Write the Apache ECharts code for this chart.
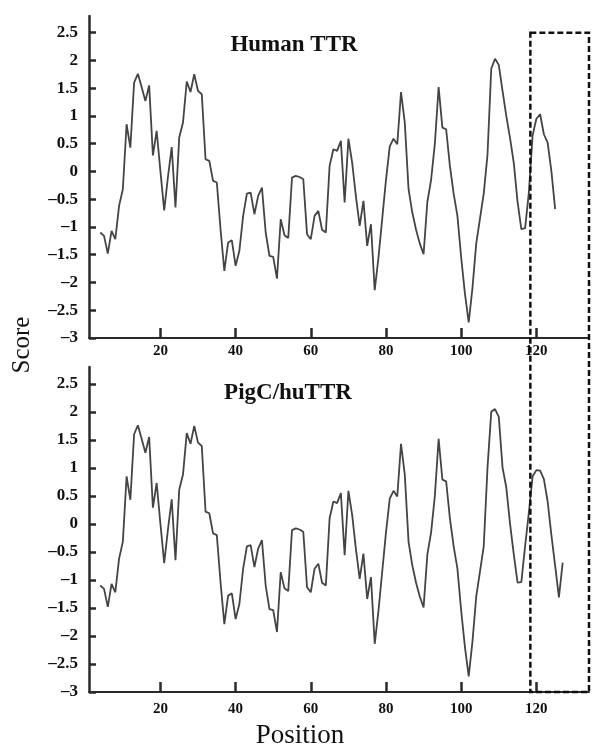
<!DOCTYPE html>
<html>
<head>
<meta charset="utf-8">
<script src="https://cdn.jsdelivr.net/npm/echarts@6/dist/echarts.min.js"></script>
<style>
html,body{margin:0;padding:0;background:#fff;}
#c{width:595px;height:747px;}
</style>
</head>
<body>
<div id="c"></div>
<script>
// ---- data ----
const humanPositions = [4,5,6,7,8,9,10,11,12,13,14,15,16,17,18,19,20,21,22,23,24,25,26,27,28,29,30,31,32,33,34,35,36,37,38,39,40,41,42,43,44,45,46,47,48,49,50,51,52,53,54,55,56,57,58,59,60,61,62,63,64,65,66,67,68,69,70,71,72,73,74,75,76,77,78,79,80,81,82,83,84,85,86,87,88,89,90,91,92,93,94,95,96,97,98,99,100,101,102,103,104,105,106,107,108,109,110,111,112,113,114,115,116,117,118,119,120,121,122,123,124,125];
const humanScores = [-1.10,-1.16,-1.48,-1.07,-1.22,-0.62,-0.32,0.85,0.43,1.60,1.76,1.52,1.27,1.55,0.29,0.73,0.00,-0.70,-0.10,0.44,-0.65,0.61,0.88,1.62,1.43,1.75,1.45,1.39,0.22,0.19,-0.17,-0.20,-1.05,-1.79,-1.28,-1.24,-1.70,-1.43,-0.80,-0.40,-0.38,-0.77,-0.44,-0.29,-1.10,-1.52,-1.54,-1.93,-0.86,-1.15,-1.20,-0.11,-0.08,-0.10,-0.14,-1.13,-1.22,-0.80,-0.71,-1.05,-1.10,0.10,0.40,0.37,0.55,-0.56,0.59,0.16,-0.45,-0.98,-0.53,-1.34,-0.95,-2.14,-1.55,-0.85,-0.15,0.45,0.59,0.49,1.43,0.88,-0.32,-0.74,-1.05,-1.30,-1.49,-0.55,-0.15,0.50,1.52,0.79,0.76,0.10,-0.40,-0.80,-1.55,-2.20,-2.72,-2.10,-1.30,-0.85,-0.40,0.30,1.85,2.03,1.92,1.45,1.00,0.60,0.15,-0.55,-1.04,-1.02,-0.38,0.65,0.95,1.03,0.67,0.52,0.00,-0.68];

const pigPositions = [4,5,6,7,8,9,10,11,12,13,14,15,16,17,18,19,20,21,22,23,24,25,26,27,28,29,30,31,32,33,34,35,36,37,38,39,40,41,42,43,44,45,46,47,48,49,50,51,52,53,54,55,56,57,58,59,60,61,62,63,64,65,66,67,68,69,70,71,72,73,74,75,76,77,78,79,80,81,82,83,84,85,86,87,88,89,90,91,92,93,94,95,96,97,98,99,100,101,102,103,104,105,106,107,108,109,110,111,112,113,114,115,116,117,118,119,120,121,122,123,124,125,126,127];
const pigScores = [-1.10,-1.16,-1.48,-1.07,-1.22,-0.62,-0.32,0.85,0.43,1.60,1.76,1.52,1.27,1.55,0.29,0.73,0.00,-0.70,-0.10,0.44,-0.65,0.61,0.88,1.62,1.43,1.75,1.45,1.39,0.22,0.19,-0.17,-0.20,-1.05,-1.79,-1.28,-1.24,-1.70,-1.43,-0.80,-0.40,-0.38,-0.77,-0.44,-0.29,-1.10,-1.52,-1.54,-1.93,-0.86,-1.15,-1.20,-0.11,-0.08,-0.10,-0.14,-1.13,-1.22,-0.80,-0.71,-1.05,-1.10,0.10,0.40,0.37,0.55,-0.56,0.59,0.16,-0.45,-0.98,-0.53,-1.34,-0.95,-2.14,-1.55,-0.85,-0.15,0.45,0.59,0.49,1.43,0.88,-0.32,-0.74,-1.05,-1.30,-1.49,-0.55,-0.15,0.50,1.52,0.79,0.76,0.10,-0.40,-0.80,-1.55,-2.20,-2.72,-2.10,-1.30,-0.85,-0.40,1.00,2.00,2.05,1.91,1.01,0.65,0.00,-0.55,-1.05,-1.04,-0.40,0.20,0.85,0.96,0.95,0.80,0.40,-0.20,-0.75,-1.31,-0.69];

const xTicks = [20, 40, 60, 80, 100, 120];
const yTicks = [-3, -2.5, -2, -1.5, -1, -0.5, 0, 0.5, 1, 1.5, 2, 2.5];
const xRange = [1, 134];
const yRange = [-3, 2.8];
const boxX = [118.4, 134];
const boxTop = 2.5;
const panelTitles = ['Human TTR', 'PigC/huTTR'];

// ---- chart ----
const SERIF = '"Liberation Serif","Times New Roman",serif';
const axisColor = '#2a2a2a';

function pairs(xs, ys){ return xs.map((x,i)=>[x, ys[i]]); }

function xAxisCfg(gi, margin){
  return {
    type:'value', gridIndex:gi, min:xRange[0], max:xRange[1],
    axisLine:{show:true, onZero:false, lineStyle:{color:axisColor, width:2}},
    axisTick:{show:true, inside:true, length:10, customValues:xTicks, lineStyle:{color:axisColor, width:2.5}},
    axisLabel:{show:true, customValues:xTicks, margin:margin, color:'#111', fontFamily:SERIF, fontWeight:'bold', fontSize:15},
    splitLine:{show:false}
  };
}
function yAxisCfg(gi){
  return {
    type:'value', gridIndex:gi, min:yRange[0], max:yRange[1],
    axisLine:{show:true, onZero:false, lineStyle:{color:axisColor, width:2.5}},
    axisTick:{show:true, inside:true, length:7, customValues:yTicks, lineStyle:{color:axisColor, width:2.5}},
    axisLabel:{show:true, customValues:yTicks, margin:11, color:'#111', fontFamily:SERIF, fontWeight:'bold', fontSize:17,
      formatter:v => v < 0 ? '\u2013' + Math.abs(v) : String(v)},
    splitLine:{show:false}
  };
}

const chart = echarts.init(document.getElementById('c'), null, {renderer:'canvas'});
chart.setOption({
  animation:false,
  backgroundColor:'#fff',
  grid:[
    {left:89, right:6, top:16, height:322},
    {left:89, right:6, top:367, height:325}
  ],
  xAxis:[xAxisCfg(0, 6), xAxisCfg(1, 10)],
  yAxis:[yAxisCfg(0), yAxisCfg(1)],
  series:[
    {type:'line', xAxisIndex:0, yAxisIndex:0, data:pairs(humanPositions, humanScores), showSymbol:false, symbol:'none',
      lineStyle:{color:'#444', width:1.8}},
    {type:'line', xAxisIndex:1, yAxisIndex:1, data:pairs(pigPositions, pigScores), showSymbol:false, symbol:'none',
      lineStyle:{color:'#444', width:1.8}}
  ]
});

const p1 = chart.convertToPixel({gridIndex:0}, [boxX[0], boxTop]);
const p2 = chart.convertToPixel({gridIndex:1}, [boxX[1], yRange[0]]);

chart.setOption({
  graphic:[
    {type:'rect', shape:{x:p1[0], y:p1[1], width:p2[0]-p1[0], height:p2[1]-p1[1]},
      style:{fill:'none', stroke:'#111', lineWidth:2.5, lineDash:[6,3]}, z:10},
    {type:'text', x:294, y:45, style:{text:panelTitles[0], font:'bold 23px ' + SERIF, fill:'#111', textAlign:'center', textVerticalAlign:'middle'}},
    {type:'text', x:288, y:393, style:{text:panelTitles[1], font:'bold 23px ' + SERIF, fill:'#111', textAlign:'center', textVerticalAlign:'middle'}},
    {type:'text', x:22, y:345, rotation:Math.PI/2, style:{text:'Score', font:'25px ' + SERIF, fill:'#111', textAlign:'center', textVerticalAlign:'middle'}},
    {type:'text', x:300, y:736, style:{text:'Position', font:'27px ' + SERIF, fill:'#111', textAlign:'center', textVerticalAlign:'middle'}}
  ]
});
</script>
</body>
</html>
